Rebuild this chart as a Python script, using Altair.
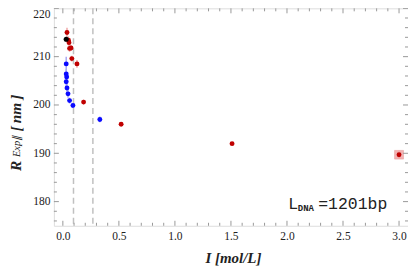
import altair as alt
import pandas as pd

# ---- data ----
red_x = [0.037, 0.05, 0.055, 0.06, 0.073, 0.08, 0.126, 0.185, 0.52, 1.51, 3.0]
red_y = [215.0, 213.4, 212.9, 211.7, 211.8, 209.6, 208.5, 200.6, 196.0, 192.0, 189.7]
red_err = [1.0, 0.8, 0.7, 0.7, 0.6, 0.6, 0.8, 0.5, 0.3, 0.3, 0.9]

blue_x = [0.03, 0.03, 0.034, 0.03, 0.037, 0.046, 0.06, 0.09, 0.33]
blue_y = [208.5, 206.4, 205.8, 204.8, 203.5, 202.3, 200.9, 199.9, 197.0]
blue_err = [1.5, 1.0, 1.0, 1.0, 1.0, 0.8, 0.6, 0.4, 0.6]

black_x = [0.03]
black_y = [213.6]

box_x = [3.0]
box_y = [189.7]
box_xerr = [0.04]
box_yerr = [0.9]

dash_x = [0.095, 0.268]

x_major = [0.0, 0.5, 1.0, 1.5, 2.0, 2.5, 3.0]
y_major = [180, 190, 200, 210, 220]
x_minor = [round(i * 0.1, 1) for i in range(0, 31) if i % 5 != 0]
y_minor = [v for v in range(176, 221, 2) if v % 10 != 0]

W, H = 355, 218
XD = [-0.08, 3.08]
YD = [175, 220]
FRAME = "#999999"
TXT = "#222222"
SERIF = "'Liberation Serif', 'Times New Roman', Times, serif"
MONO = "'Liberation Mono', 'Courier New', Courier, monospace"

red = pd.DataFrame({"x": red_x, "y": red_y, "lo": [a - b for a, b in zip(red_y, red_err)],
                    "hi": [a + b for a, b in zip(red_y, red_err)]})
blue = pd.DataFrame({"x": blue_x, "y": blue_y, "lo": [a - b for a, b in zip(blue_y, blue_err)],
                     "hi": [a + b for a, b in zip(blue_y, blue_err)]})
black = pd.DataFrame({"x": black_x, "y": black_y})
box = pd.DataFrame({"x0": [a - b for a, b in zip(box_x, box_xerr)], "x1": [a + b for a, b in zip(box_x, box_xerr)],
                    "y0": [a - b for a, b in zip(box_y, box_yerr)], "y1": [a + b for a, b in zip(box_y, box_yerr)]})
dash = pd.DataFrame({"x": dash_x})

xs = alt.Scale(domain=XD, nice=False, zero=False)
ys = alt.Scale(domain=YD, nice=False, zero=False)

xaxis = alt.Axis(values=x_major, format=".1f", ticks=False, domain=False, grid=False,
                 labelFont=SERIF, labelFontSize=11.5, labelColor=TXT, labelPadding=5,
                 title=None)
yaxis = alt.Axis(values=y_major, format="d", ticks=False, domain=False, grid=False,
                 labelFont=SERIF, labelFontSize=11.5, labelColor=TXT, labelPadding=4,
                 labelBaseline=alt.ConditionalAxisLabelBaseline(
                     condition={"test": "datum.value == 220", "value": "top"}, value="middle"),
                 title=None)

dashes = alt.Chart(dash).mark_rule(color="#c0c0c0", strokeDash=[6, 4], strokeWidth=1.5).encode(
    x=alt.X("x:Q", scale=xs, axis=xaxis), y=alt.value(0), y2=alt.value(H))

boxes = alt.Chart(box).mark_rect(color="#f2b3b3", stroke="#e59a9a", strokeWidth=0.5).encode(
    x=alt.X("x0:Q", scale=xs), x2="x1:Q",
    y=alt.Y("y0:Q", scale=ys, axis=yaxis), y2="y1:Q")

red_err_l = alt.Chart(red).mark_rule(color="#f0a8a8", strokeWidth=1.5).encode(
    x=alt.X("x:Q", scale=xs), y=alt.Y("lo:Q", scale=ys), y2="hi:Q")
blue_err_l = alt.Chart(blue).mark_rule(color="#a8a8f5", strokeWidth=1.5).encode(
    x=alt.X("x:Q", scale=xs), y=alt.Y("lo:Q", scale=ys), y2="hi:Q")

pts_blue = alt.Chart(blue).mark_circle(color="#0a0aff", size=24, opacity=1).encode(
    x=alt.X("x:Q", scale=xs), y=alt.Y("y:Q", scale=ys))
pts_red = alt.Chart(red).mark_circle(color="#c00000", size=24, opacity=1).encode(
    x=alt.X("x:Q", scale=xs), y=alt.Y("y:Q", scale=ys))
pts_black = alt.Chart(black).mark_circle(color="#000000", size=26, opacity=1).encode(
    x=alt.X("x:Q", scale=xs), y=alt.Y("y:Q", scale=ys))


def xticks(vals, length):
    d = pd.DataFrame({"x": vals})
    b = alt.Chart(d).mark_rule(color=FRAME, strokeWidth=1)
    bottom = b.encode(x=alt.X("x:Q", scale=xs), y=alt.value(H - length), y2=alt.value(H))
    top = b.encode(x=alt.X("x:Q", scale=xs), y=alt.value(0), y2=alt.value(length))
    return [bottom, top]


def yticks(vals, length):
    d = pd.DataFrame({"y": vals})
    b = alt.Chart(d).mark_rule(color=FRAME, strokeWidth=1)
    left = b.encode(y=alt.Y("y:Q", scale=ys), x=alt.value(0), x2=alt.value(length))
    right = b.encode(y=alt.Y("y:Q", scale=ys), x=alt.value(W - length), x2=alt.value(W))
    return [left, right]


ticks = xticks(x_major, 5) + xticks(x_minor, 3) + yticks(y_major, 5) + yticks(y_minor, 3)


def label(txt, x, y, size, font=SERIF, style="normal", weight="normal", angle=0, align="center",
          baseline="middle"):
    return alt.Chart(pd.DataFrame({"t": [txt]})).mark_text(
        text=txt, font=font, fontSize=size, fontStyle=style, fontWeight=weight, angle=angle,
        align=align, baseline=baseline, color=TXT).encode(x=alt.value(x), y=alt.value(y))


ytitle = [
    label("R", -37.5, 158, 15.5, style="italic", weight="bold", angle=270),
    label("Exp\u2225", -36.5, 138.5, 10.5, style="italic", angle=270),
    label("[\u2009nm\u2009]", -37.5, 105, 15.5, style="italic", weight="bold", angle=270),
]

xtitle = [label("I [mol/L]", 180, 250, 15, style="italic", weight="bold")]

annot = [
    label("L", 235, 201, 16.5, font=MONO, align="left", baseline="alphabetic"),
    label("DNA", 244.5, 203, 9, font=MONO, weight="bold", align="left", baseline="alphabetic"),
    label("=1201bp", 265, 201, 16.5, font=MONO, align="left", baseline="alphabetic"),
]

chart = alt.layer(
    dashes, boxes, red_err_l, blue_err_l, pts_blue, pts_red, pts_black, *ticks, *ytitle, *xtitle, *annot
).properties(
    width=W, height=H,
    autosize=alt.AutoSizeParams(type="none"),
    padding={"left": 46, "top": 0, "right": 0, "bottom": 40},
).configure_view(stroke=FRAME, strokeWidth=1).configure_axis(
    labelFont=SERIF, labelFontSize=11.5, labelColor=TXT
).configure(background="white")

chart.save("out.html", embed_options={"renderer": "svg", "actions": False})
